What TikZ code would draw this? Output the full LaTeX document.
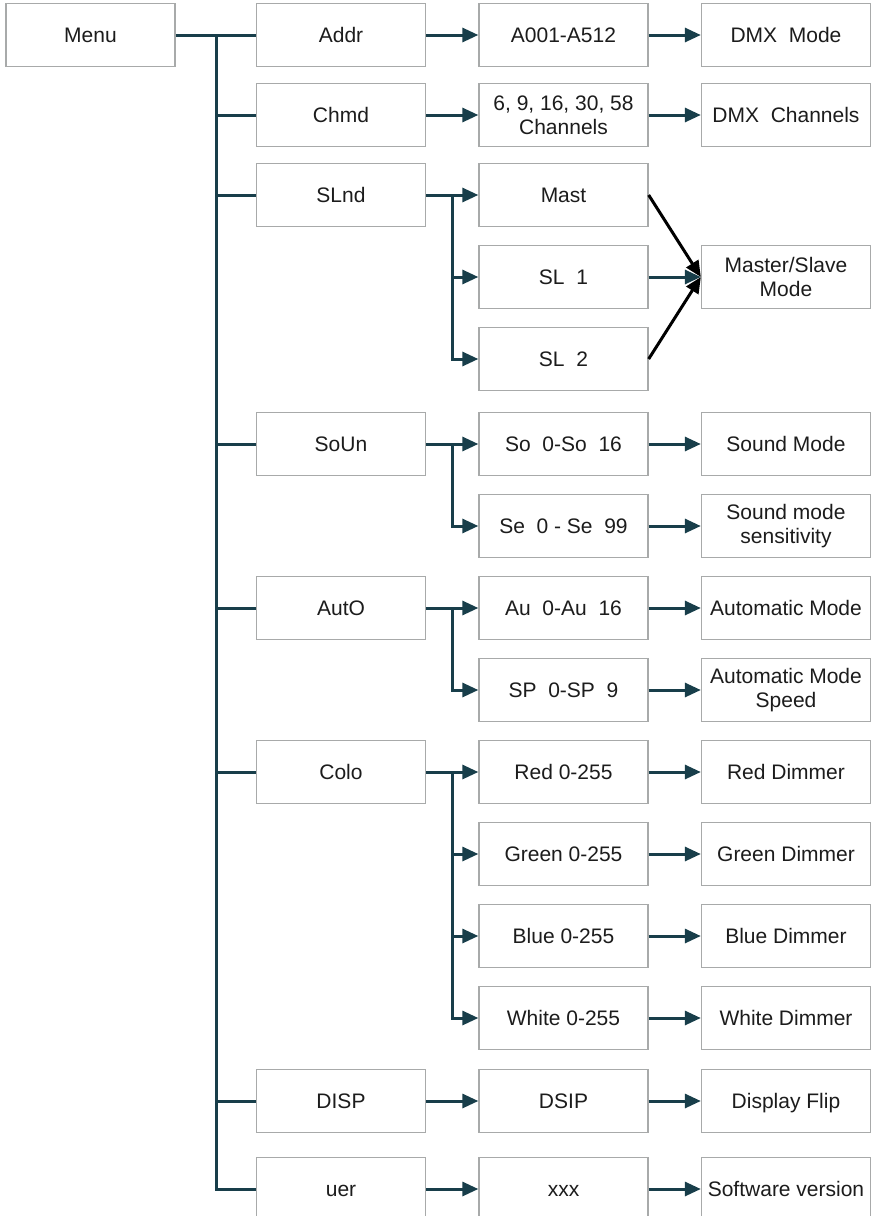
\documentclass[tikz,border=0pt]{standalone}
\usepackage{fontspec}
\setmainfont{Liberation Sans}
\usetikzlibrary{arrows.meta,positioning}
\definecolor{mtteal}{RGB}{24,62,74}
\definecolor{mtgray}{RGB}{168,170,170}
\definecolor{mttext}{RGB}{28,28,28}
\tikzset{
    menubox/.style={
        draw=mtgray,line width=1.3pt,fill=white,
        minimum width=169pt,minimum height=63pt,inner sep=2pt,
        align=center,text=mttext,font=\fontsize{21}{24}\selectfont
    },
    oneline/.style={menubox,text height=15pt,text depth=0pt},
    link/.style={draw=mtteal,line width=3pt},
    arrow/.style={
        link,-{Triangle[length=16pt,width=14pt]}
    },
    darkarrow/.style={
        draw=black,line width=3pt,-{Triangle[length=16pt,width=14pt]}
    }
}
\begin{document}
\begin{tikzpicture}[x=1pt,y=-1pt]
\useasboundingbox (0,0) rectangle (871,1216);

% column 1 and 2
\node[oneline] (menu) at (90.5,35) {Menu};
\node[oneline] (addr) at (341,35) {Addr};
\node[oneline] (chmd) at (341,115) {Chmd};
\node[oneline] (slnd) at (341,195) {SLnd};
\node[oneline] (soun) at (341,444) {SoUn};
\node[oneline] (auto) at (341,608) {AutO};
\node[oneline] (colo) at (341,772) {Colo};
\node[oneline] (disp) at (341,1101) {DISP};
\node[oneline] (uer) at (341,1189) {uer};

% column 3
\node[oneline] (addrval) at (563.5,35) {A001-A512};
\node[menubox] (chval) at (563.5,115) {6, 9, 16, 30, 58\\Channels};
\node[oneline] (mast) at (563.5,195) {Mast};
\node[oneline] (slone) at (563.5,277) {SL\ \ 1};
\node[oneline] (sltwo) at (563.5,359) {SL\ \ 2};
\node[oneline] (soval) at (563.5,444) {So\ \ 0-So\ \ 16};
\node[oneline] (seval) at (563.5,526) {Se\ \ 0 - Se\ \ 99};
\node[oneline] (auval) at (563.5,608) {Au\ \ 0-Au\ \ 16};
\node[oneline] (spval) at (563.5,690) {SP\ \ 0-SP\ \ 9};
\node[oneline] (red) at (563.5,772) {Red 0-255};
\node[oneline] (green) at (563.5,854) {Green 0-255};
\node[oneline] (blue) at (563.5,936) {Blue 0-255};
\node[oneline] (white) at (563.5,1018) {White 0-255};
\node[oneline] (dsip) at (563.5,1101) {DSIP};
\node[oneline] (xxx) at (563.5,1189) {xxx};

% column 4
\node[oneline] (dmxmode) at (786,35) {DMX\ \ Mode};
\node[oneline] (dmxch) at (786,115) {DMX\ \ Channels};
\node[menubox] (msmode) at (786,277) {Master/Slave\\Mode};
\node[oneline] (sound) at (786,444) {Sound Mode};
\node[menubox] (sens) at (786,526) {Sound mode\\sensitivity};
\node[oneline] (automode) at (786,608) {Automatic Mode};
\node[menubox] (autospeed) at (786,690) {Automatic Mode\\Speed};
\node[oneline] (reddim) at (786,772) {Red Dimmer};
\node[oneline] (greendim) at (786,854) {Green Dimmer};
\node[oneline] (bluedim) at (786,936) {Blue Dimmer};
\node[oneline] (whitedim) at (786,1018) {White Dimmer};
\node[oneline] (flip) at (786,1101) {Display Flip};
\node[oneline] (version) at (786,1189) {Software version};

% trunk from Menu
\coordinate (trunk) at (216,35);
\draw[link] (menu.east) -- (addr.west);
\draw[link] (trunk) |- (uer.west);
\draw[link] (trunk |- chmd.west) -- (chmd.west);
\draw[link] (trunk |- slnd.west) -- (slnd.west);
\draw[link] (trunk |- soun.west) -- (soun.west);
\draw[link] (trunk |- auto.west) -- (auto.west);
\draw[link] (trunk |- colo.west) -- (colo.west);
\draw[link] (trunk |- disp.west) -- (disp.west);

% single arrows
\draw[arrow] (addr.east) -- (addrval.west);
\draw[arrow] (addrval.east) -- (dmxmode.west);
\draw[arrow] (chmd.east) -- (chval.west);
\draw[arrow] (chval.east) -- (dmxch.west);
\draw[arrow] (disp.east) -- (dsip.west);
\draw[arrow] (dsip.east) -- (flip.west);
\draw[arrow] (uer.east) -- (xxx.west);
\draw[arrow] (xxx.east) -- (version.west);

% SLnd branch
\coordinate (slbr) at (452,195);
\draw[arrow] (slnd.east) -- (mast.west);
\draw[arrow] (slbr) |- (sltwo.west);
\draw[arrow] (slbr |- slone.west) -- (slone.west);
\draw[darkarrow] (mast.east) -- (msmode.west);
\draw[arrow] (slone.east) -- (msmode.west);
\draw[darkarrow] (sltwo.east) -- (msmode.west);

% SoUn branch
\coordinate (sobr) at (452,444);
\draw[arrow] (soun.east) -- (soval.west);
\draw[arrow] (sobr) |- (seval.west);
\draw[arrow] (soval.east) -- (sound.west);
\draw[arrow] (seval.east) -- (sens.west);

% AutO branch
\coordinate (aubr) at (452,608);
\draw[arrow] (auto.east) -- (auval.west);
\draw[arrow] (aubr) |- (spval.west);
\draw[arrow] (auval.east) -- (automode.west);
\draw[arrow] (spval.east) -- (autospeed.west);

% Colo branch
\coordinate (cobr) at (452,772);
\draw[arrow] (colo.east) -- (red.west);
\draw[arrow] (cobr) |- (white.west);
\draw[arrow] (cobr |- green.west) -- (green.west);
\draw[arrow] (cobr |- blue.west) -- (blue.west);
\draw[arrow] (red.east) -- (reddim.west);
\draw[arrow] (green.east) -- (greendim.west);
\draw[arrow] (blue.east) -- (bluedim.west);
\draw[arrow] (white.east) -- (whitedim.west);

\end{tikzpicture}
\end{document}
